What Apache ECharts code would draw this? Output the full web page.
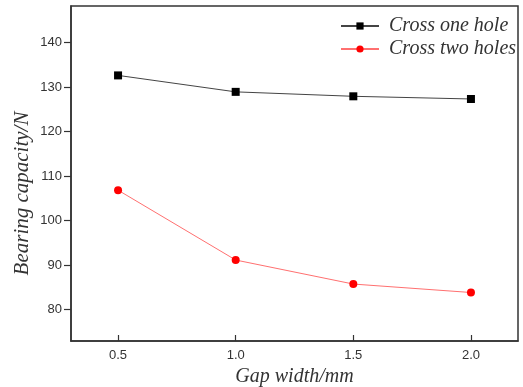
<!DOCTYPE html>
<html><head><meta charset="utf-8">
<script src="https://cdn.jsdelivr.net/npm/echarts@6/dist/echarts.min.js"></script>
<style>html,body{margin:0;padding:0;background:#fff}#c{width:523px;height:387px}</style>
</head><body><div id="c"></div>
<script>
var gapWidths = [0.5, 1.0, 1.5, 2.0];
var crossOneHole = [132.6, 128.9, 127.9, 127.3];
var crossTwoHoles = [106.8, 91.1, 85.7, 83.8];
var yTicks = [80, 90, 100, 110, 120, 130, 140];
var xTicks = [0.5, 1.0, 1.5, 2.0];
var seriesNames = ['Cross one hole', 'Cross two holes'];
var xTitle = 'Gap width/mm';
var yTitle = 'Bearing capacity/N';

function pairs(xs, ys) { return xs.map(function (x, i) { return [x, ys[i]]; }); }

var chart = echarts.init(document.getElementById('c'), null, {renderer: 'canvas'});
chart.setOption({
  animation: false,
  backgroundColor: '#fff',
  grid: {left: 71, right: 5, top: 6, bottom: 46, outerBoundsMode: 'none', containLabel: false,
         show: true, borderColor: '#333', borderWidth: 1.5, backgroundColor: 'transparent'},
  legend: {
    orient: 'vertical', left: 340, top: 16, padding: 0, itemGap: 3, itemWidth: 38, itemHeight: 9,
    data: seriesNames,
    textStyle: {fontFamily: 'Liberation Serif', fontStyle: 'italic', fontSize: 20, lineHeight: 20, color: '#333', padding: [0, 0, 0, 5]}
  },
  graphic: [{
    type: 'text', left: 12, top: 'middle',
    style: {text: yTitle, fontFamily: 'Liberation Serif', fontStyle: 'italic', fontSize: 21, fill: '#333'},
    rotation: Math.PI / 2, x: 23, y: 190, originX: 0, originY: 0,
    silent: true
  }],
  xAxis: {
    type: 'value', min: 0.3, max: 2.2,
    name: xTitle, nameLocation: 'middle', nameGap: 25,
    nameTextStyle: {fontFamily: 'Liberation Serif', fontStyle: 'italic', fontSize: 20, color: '#333', verticalAlign: 'top'},
    axisLine: {show: true, lineStyle: {color: '#333', width: 1.5}},
    axisTick: {show: true, inside: true, length: 6, customValues: xTicks, lineStyle: {color: '#333', width: 1.2}},
    axisLabel: {customValues: xTicks, fontFamily: 'Liberation Sans', fontSize: 13, color: '#333', margin: 8,
      formatter: function (v) { return v.toFixed(1); }},
    splitLine: {show: false}
  },
  yAxis: {
    type: 'value', min: 72.9, max: 148.2,
    axisLine: {show: true, lineStyle: {color: '#333', width: 1.5}},
    axisTick: {show: true, inside: false, length: 7, customValues: yTicks, lineStyle: {color: '#333', width: 1.2}},
    axisLabel: {customValues: yTicks, fontFamily: 'Liberation Sans', fontSize: 13, color: '#333', margin: 9},
    splitLine: {show: false}
  },
  series: [
    {name: seriesNames[0], type: 'line', data: pairs(gapWidths, crossOneHole),
     symbol: 'rect', symbolSize: 8, itemStyle: {color: '#000'}, lineStyle: {color: '#444', width: 1}},
    {name: seriesNames[1], type: 'line', data: pairs(gapWidths, crossTwoHoles),
     symbol: 'circle', symbolSize: 8, itemStyle: {color: '#ff0000'}, lineStyle: {color: '#ff7070', width: 1}}
  ]
});
</script></body></html>
